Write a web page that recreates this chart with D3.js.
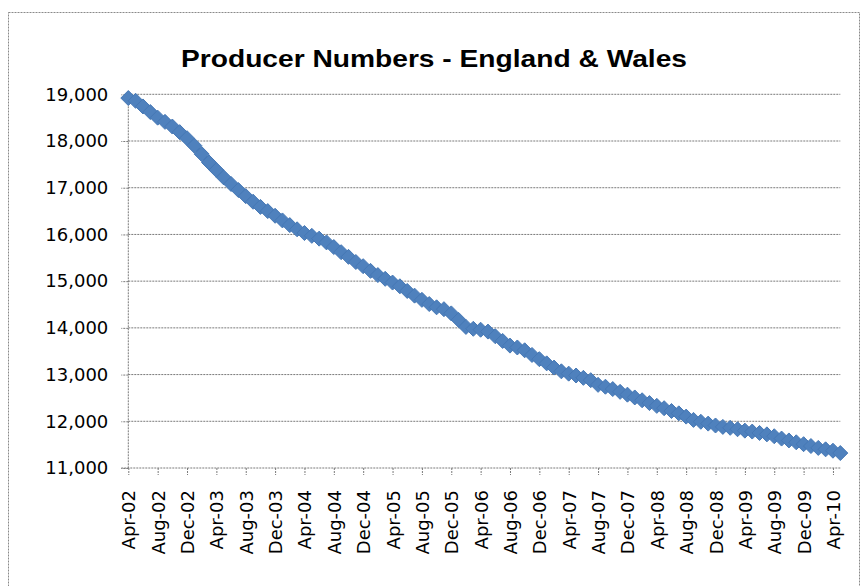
<!DOCTYPE html>
<html>
<head>
<meta charset="utf-8">
<script src="https://cdn.jsdelivr.net/npm/d3@7"></script>
<style>
  body { margin: 0; background: #fff; }
  svg { display: block; }
</style>
</head>
<body>
<div id="chart-area"></div>
<script>
// Producer numbers, monthly, Apr-02 .. May-10
const producers = [
  18920, 18860, 18740, 18620, 18500, 18410, 18310, 18190, 18060, 17900,
  17720, 17540, 17380, 17220, 17080, 16950, 16820, 16700, 16590, 16500,
  16400, 16300, 16200, 16110, 16030, 15970, 15910, 15830, 15730, 15620,
  15520, 15410, 15320, 15220, 15130, 15050, 14970, 14890, 14790, 14690,
  14600, 14510, 14440, 14400, 14310, 14170, 14020, 13980, 13960, 13920,
  13820, 13720, 13620, 13580, 13520, 13420, 13330, 13240, 13150, 13070,
  13020, 12980, 12930, 12880, 12780, 12740, 12690, 12630, 12570, 12510,
  12450, 12390, 12330, 12280, 12220, 12170, 12100, 12030, 11990, 11950,
  11910, 11880, 11860, 11830, 11800, 11780, 11750, 11720, 11680, 11630,
  11590, 11550, 11510, 11470, 11430, 11400, 11370, 11320
]

// one label every 4 months
const tickLabels = [
  "Apr-02", "Aug-02", "Dec-02", "Apr-03", "Aug-03", "Dec-03", "Apr-04",
  "Aug-04", "Dec-04", "Apr-05", "Aug-05", "Dec-05", "Apr-06", "Aug-06",
  "Dec-06", "Apr-07", "Aug-07", "Dec-07", "Apr-08", "Aug-08", "Dec-08",
  "Apr-09", "Aug-09", "Dec-09", "Apr-10"
]
const tickStep = 4

const yTicks = [11000, 12000, 13000, 14000, 15000, 16000, 17000, 18000, 19000]

const TITLE = "Producer Numbers - England & Wales"

const W = 863
const H = 586
const PLOT = { LEFT: 128.3, RIGHT: 840.3, TOP: 94.3, BOTTOM: 468 }
const BLUE = "#4F81BD"
const BLUE_DARK = "#4678B5"

const svg = d3.select("#chart-area").append("svg")
  .attr("width", W)
  .attr("height", H)

// chart border
svg.append("rect")
  .attr("x", 8.5)
  .attr("y", 12.5)
  .attr("width", 851)
  .attr("height", 600)
  .attr("fill", "none")
  .attr("stroke", "#8a8a8a")
  .attr("stroke-dasharray", "2,1")

// title
svg.append("text")
  .attr("x", 434)
  .attr("y", 67)
  .attr("text-anchor", "middle")
  .attr("font-family", "'Liberation Sans', Arial, sans-serif")
  .attr("font-weight", "bold")
  .attr("font-size", "24px")
  .attr("fill", "#000")
  .attr("textLength", 506)
  .attr("lengthAdjust", "spacingAndGlyphs")
  .text(TITLE)

// Scales
const x = d3.scaleLinear()
  .domain([0, producers.length - 1])
  .range([PLOT.LEFT, PLOT.RIGHT])

const y = d3.scaleLinear()
  .domain([11000, 19000])
  .range([PLOT.BOTTOM, PLOT.TOP])

// gridlines
svg.append("g")
  .selectAll("line")
  .data(yTicks.slice(1))
  .join("line")
    .attr("x1", PLOT.LEFT)
    .attr("x2", PLOT.RIGHT)
    .attr("y1", d => y(d))
    .attr("y2", d => y(d))
    .attr("stroke", "#7a7a7a")
    .attr("stroke-dasharray", "2,1")

// y axis
const yAxisCall = d3.axisLeft(y)
  .tickValues(yTicks)
  .tickSize(7)
  .tickPadding(13)
  .tickFormat(d3.format(","))

const yAxis = svg.append("g")
  .attr("transform", `translate(${PLOT.LEFT},0)`)
  .call(yAxisCall)
yAxis.select(".domain")
  .attr("d", `M0,${PLOT.TOP}V${PLOT.BOTTOM}`)

// x axis
const tickIdx = tickLabels.map((_, i) => i * tickStep)
const xAxisCall = d3.axisBottom(x)
  .tickValues(tickIdx)
  .tickSize(7)
  .tickSizeOuter(0)
  .tickFormat((d, i) => tickLabels[i])

const xAxis = svg.append("g")
  .attr("transform", `translate(0,${PLOT.BOTTOM})`)
  .call(xAxisCall)
xAxis.select(".domain")
  .attr("d", `M${PLOT.LEFT - 7},0H${PLOT.RIGHT}`)

xAxis.selectAll("text")
  .attr("transform", "rotate(-90)")
  .attr("text-anchor", "end")
  .attr("x", -22)
  .attr("y", 0)
  .attr("dy", "0.36em")

svg.selectAll(".tick text")
  .attr("font-family", "'DejaVu Sans', Verdana, sans-serif")
  .attr("font-size", "18px")
  .attr("fill", "#000")

svg.selectAll(".domain, .tick line")
  .attr("stroke", "#7a7a7a")
  .attr("stroke-dasharray", "2,1")

// line + diamond markers
const line = d3.line()
  .x((d, i) => x(i))
  .y(d => y(d))

svg.append("path")
  .datum(producers)
  .attr("fill", "none")
  .attr("stroke", BLUE)
  .attr("stroke-width", 5)
  .attr("d", line)

const diamond = "M0,-7.5L7.5,0L0,7.5L-7.5,0Z"
svg.append("g")
  .selectAll("path")
  .data(producers)
  .join("path")
    .attr("transform", (d, i) => `translate(${x(i)},${y(d)})`)
    .attr("d", diamond)
    .attr("fill", BLUE)
    .attr("stroke", BLUE_DARK)
    .attr("stroke-width", 1)
</script>
</body>
</html>
